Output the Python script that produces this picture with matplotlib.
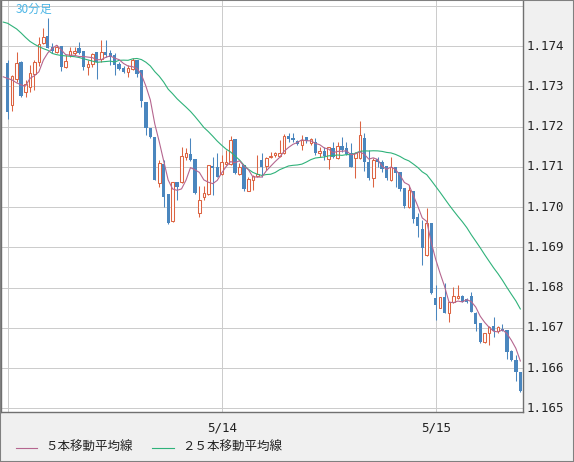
import numpy as np
import pandas as pd
import matplotlib
matplotlib.use("Agg")
import matplotlib.pyplot as plt
from matplotlib.lines import Line2D
from matplotlib.patches import Rectangle

plt.rcParams["font.family"] = ["DejaVu Sans Mono"]

# 30-minute candles, 5/13 00:00 onwards
opens = [
    1.17358, 1.17254, 1.17319, 1.17361, 1.17285, 1.17298, 1.17331, 1.17360, 1.17409, 1.17425,
    1.17399, 1.17386, 1.17401, 1.17349, 1.17378, 1.17384, 1.17396, 1.17388, 1.17349, 1.17355,
    1.17385, 1.17368, 1.17386, 1.17382, 1.17378, 1.17355, 1.17347, 1.17337, 1.17343, 1.17366,
    1.17341, 1.17262, 1.17196, 1.17175, 1.17061, 1.17107, 1.17033, 1.16966, 1.17062, 1.17063,
    1.17124, 1.17132, 1.17119, 1.16985, 1.17026, 1.17033, 1.17102, 1.17099, 1.17082, 1.17107,
    1.17107, 1.17169, 1.17082, 1.17105, 1.17041, 1.17068, 1.17077, 1.17117, 1.17102, 1.17124,
    1.17129, 1.17128, 1.17134, 1.17177, 1.17173, 1.17164, 1.17154, 1.17175, 1.17159, 1.17163,
    1.17135, 1.17140, 1.17119, 1.17146, 1.17121, 1.17152, 1.17146, 1.17135, 1.17121, 1.17121,
    1.17171, 1.17113, 1.17072, 1.17119, 1.17113, 1.17102, 1.17068, 1.17099, 1.17088, 1.17047,
    1.17000, 1.17041, 1.16975, 1.16945, 1.16881, 1.16961, 1.16773, 1.16749, 1.16776, 1.16736,
    1.16765, 1.16773, 1.16779, 1.16771, 1.16779, 1.16738, 1.16711, 1.16666, 1.16688, 1.16705,
    1.16691, 1.16696, 1.16695, 1.16643, 1.16620, 1.16589,
]
highs = [
    1.17366, 1.17328, 1.17386, 1.17363, 1.17316, 1.17353, 1.17367, 1.17422, 1.17445, 1.17469,
    1.17409, 1.17403, 1.17401, 1.17378, 1.17399, 1.17399, 1.17411, 1.17388, 1.17366, 1.17382,
    1.17385, 1.17416, 1.17416, 1.17391, 1.17382, 1.17362, 1.17352, 1.17353, 1.17370, 1.17367,
    1.17341, 1.17262, 1.17196, 1.17175, 1.17117, 1.17117, 1.17033, 1.17063, 1.17062, 1.17150,
    1.17148, 1.17171, 1.17119, 1.17053, 1.17053, 1.17105, 1.17125, 1.17134, 1.17130, 1.17142,
    1.17177, 1.17169, 1.17109, 1.17105, 1.17076, 1.17080, 1.17130, 1.17134, 1.17125, 1.17138,
    1.17138, 1.17167, 1.17183, 1.17185, 1.17185, 1.17167, 1.17179, 1.17175, 1.17171, 1.17173,
    1.17150, 1.17150, 1.17150, 1.17163, 1.17163, 1.17174, 1.17163, 1.17160, 1.17138, 1.17214,
    1.17185, 1.17142, 1.17121, 1.17125, 1.17117, 1.17102, 1.17124, 1.17101, 1.17088, 1.17047,
    1.17055, 1.17041, 1.16986, 1.16968, 1.16997, 1.16961, 1.16807, 1.16776, 1.16811, 1.16764,
    1.16802, 1.16807, 1.16782, 1.16773, 1.16790, 1.16740, 1.16711, 1.16688, 1.16705, 1.16728,
    1.16705, 1.16710, 1.16695, 1.16645, 1.16633, 1.16589,
]
lows = [
    1.17219, 1.17240, 1.17312, 1.17275, 1.17273, 1.17287, 1.17290, 1.17351, 1.17406, 1.17396,
    1.17382, 1.17382, 1.17339, 1.17347, 1.17374, 1.17378, 1.17381, 1.17341, 1.17328, 1.17349,
    1.17318, 1.17362, 1.17374, 1.17353, 1.17328, 1.17342, 1.17334, 1.17323, 1.17341, 1.17323,
    1.17248, 1.17179, 1.17173, 1.17067, 1.17051, 1.17001, 1.16958, 1.16964, 1.17019, 1.17059,
    1.17117, 1.17115, 1.17033, 1.16976, 1.17018, 1.17030, 1.17030, 1.17076, 1.17080, 1.17105,
    1.17105, 1.17082, 1.17080, 1.17041, 1.17041, 1.17043, 1.17076, 1.17076, 1.17092, 1.17121,
    1.17125, 1.17125, 1.17132, 1.17163, 1.17163, 1.17154, 1.17142, 1.17160, 1.17154, 1.17130,
    1.17125, 1.17117, 1.17096, 1.17121, 1.17119, 1.17138, 1.17130, 1.17099, 1.17072, 1.17119,
    1.17091, 1.17068, 1.17049, 1.17101, 1.17088, 1.17068, 1.17066, 1.17051, 1.17041, 1.16997,
    1.16999, 1.16961, 1.16925, 1.16856, 1.16879, 1.16784, 1.16720, 1.16749, 1.16736, 1.16715,
    1.16761, 1.16771, 1.16763, 1.16761, 1.16739, 1.16691, 1.16663, 1.16662, 1.16657, 1.16676,
    1.16688, 1.16691, 1.16622, 1.16618, 1.16569, 1.16541,
]
closes = [
    1.17237, 1.17326, 1.17358, 1.17277, 1.17306, 1.17333, 1.17360, 1.17406, 1.17422, 1.17396,
    1.17389, 1.17399, 1.17349, 1.17363, 1.17388, 1.17388, 1.17384, 1.17349, 1.17356, 1.17381,
    1.17362, 1.17385, 1.17378, 1.17374, 1.17353, 1.17343, 1.17337, 1.17347, 1.17366, 1.17331,
    1.17265, 1.17196, 1.17174, 1.17068, 1.17109, 1.17026, 1.16960, 1.17063, 1.17051, 1.17127,
    1.17134, 1.17116, 1.17036, 1.17019, 1.17034, 1.17105, 1.17098, 1.17076, 1.17112, 1.17113,
    1.17167, 1.17084, 1.17101, 1.17045, 1.17069, 1.17077, 1.17082, 1.17101, 1.17121, 1.17128,
    1.17134, 1.17134, 1.17177, 1.17169, 1.17167, 1.17157, 1.17167, 1.17165, 1.17169, 1.17135,
    1.17140, 1.17127, 1.17150, 1.17124, 1.17152, 1.17142, 1.17132, 1.17101, 1.17134, 1.17179,
    1.17111, 1.17072, 1.17117, 1.17113, 1.17096, 1.17072, 1.17101, 1.17086, 1.17044, 1.17003,
    1.17043, 1.16970, 1.16952, 1.16898, 1.16960, 1.16786, 1.16758, 1.16776, 1.16736, 1.16764,
    1.16778, 1.16779, 1.16765, 1.16765, 1.16739, 1.16710, 1.16666, 1.16688, 1.16703, 1.16691,
    1.16701, 1.16692, 1.16641, 1.16620, 1.16591, 1.16544,
]

# moving average values before enough candles are on screen (from candle -1)
ma5_head = [1.17324, 1.17320, 1.17316, 1.17309, 1.17304]
ma25_head = [
    1.17460, 1.17457, 1.17450, 1.17443, 1.17433, 1.17422, 1.17412, 1.17405, 1.17399, 1.17394,
    1.17390, 1.17382, 1.17379, 1.17377, 1.17376, 1.17375, 1.17374, 1.17372, 1.17369, 1.17366,
    1.17363, 1.17360, 1.17361, 1.17362, 1.17363,
]

day_ticks = [0, 48, 96]
day_labels = ["", "5/14", "5/15"]
price_ticks = [1.165, 1.166, 1.167, 1.168, 1.169, 1.170, 1.171, 1.172, 1.173, 1.174, 1.175]
price_labels = ["1.165", "1.166", "1.167", "1.168", "1.169", "1.170",
                "1.171", "1.172", "1.173", "1.174", ""]

UP = "#dc6442"
DOWN = "#4a86be"
MA5_C = "#b5668f"
MA25_C = "#2fb27a"
GRID = "#cccccc"
EDGE = "#707070"

df = pd.DataFrame({"open": opens, "high": highs, "low": lows, "close": closes})
n = len(df)
x = np.arange(n)

ma5 = df["close"].rolling(5).mean().to_numpy()
ma5[:4] = ma5_head[1:]
ma25 = df["close"].rolling(25).mean().to_numpy()
ma25[:24] = ma25_head[1:]
ma_x = np.arange(-1, n)
ma5_y = np.concatenate([[ma5_head[0]], ma5])
ma25_y = np.concatenate([[ma25_head[0]], ma25])

fig = plt.figure(figsize=(5.74, 4.62), dpi=100)
fig.patch.set_facecolor("#f0f0f0")
ax = fig.add_axes([1 / 574, 50 / 462, 522 / 574, 412 / 462])
ax.set_facecolor("white")

up = df["close"] >= df["open"]
dn = ~up
px = 1 / 40230  # one pixel in price

# wicks
ax.vlines(x[up], df["low"][up], df["high"][up], color=UP, lw=0.75, zorder=2)
ax.vlines(x[dn], df["low"][dn], df["high"][dn], color=DOWN, lw=0.75, zorder=2)

# bodies
h_up = np.maximum((df["close"] - df["open"])[up], px)
ax.bar(x[up], h_up, bottom=df["open"][up], width=0.58,
       facecolor="white", edgecolor=UP, linewidth=0.75, zorder=3)
h_dn = np.maximum((df["open"] - df["close"])[dn], px)
ax.bar(x[dn], h_dn, bottom=df["close"][dn], width=0.74,
       color=DOWN, linewidth=0, zorder=3)

ax.plot(ma_x, ma25_y, color=MA25_C, lw=0.8, zorder=4)
ax.plot(ma_x, ma5_y, color=MA5_C, lw=0.8, zorder=4)

ax.set_xlim(-1.5, 115.6)
ax.set_ylim(1.164908, 1.175149)

ax.set_xticks(day_ticks)
ax.set_xticklabels(day_labels, fontsize=9, color="#222222")
ax.set_yticks(price_ticks)
ax.set_yticklabels(price_labels, fontsize=9, color="#222222")
ax.yaxis.tick_right()
ax.tick_params(axis="y", length=0, pad=2.5)
ax.tick_params(axis="x", length=0, pad=7)
for lab in ax.get_yticklabels():
    lab.set_verticalalignment("center")
ax.grid(color=GRID, lw=0.72, zorder=0)
ax.set_axisbelow(True)

for side in ["left", "right", "bottom"]:
    ax.spines[side].set_color(EDGE)
    ax.spines[side].set_linewidth(1.0)
ax.spines["top"].set_visible(False)

ax.text(0.028, 0.993, "30分足", transform=ax.transAxes, ha="left", va="top",
        fontsize=8.5, color="#4cb6e6", family=["Noto Sans CJK JP", "DejaVu Sans"])

# legend row at the bottom
cjk = ["Noto Sans CJK JP", "DejaVu Sans"]
ly = 14.5 / 462
fig.add_artist(Line2D([16 / 574, 37 / 574], [ly, ly], color=MA5_C, lw=0.8))
fig.text(45 / 574, ly, "５本移動平均線", fontsize=9, va="center", ha="left",
         color="#222222", family=cjk)
fig.add_artist(Line2D([152 / 574, 174 / 574], [ly, ly], color=MA25_C, lw=0.8))
fig.text(182 / 574, ly, "２５本移動平均線", fontsize=9, va="center", ha="left",
         color="#222222", family=cjk)

# outer frame
fig.add_artist(Rectangle((0, 0), 1, 1, transform=fig.transFigure, fill=False,
                         edgecolor="#808080", linewidth=1.5))

fig.savefig("out.png", dpi=100, facecolor=fig.get_facecolor())
